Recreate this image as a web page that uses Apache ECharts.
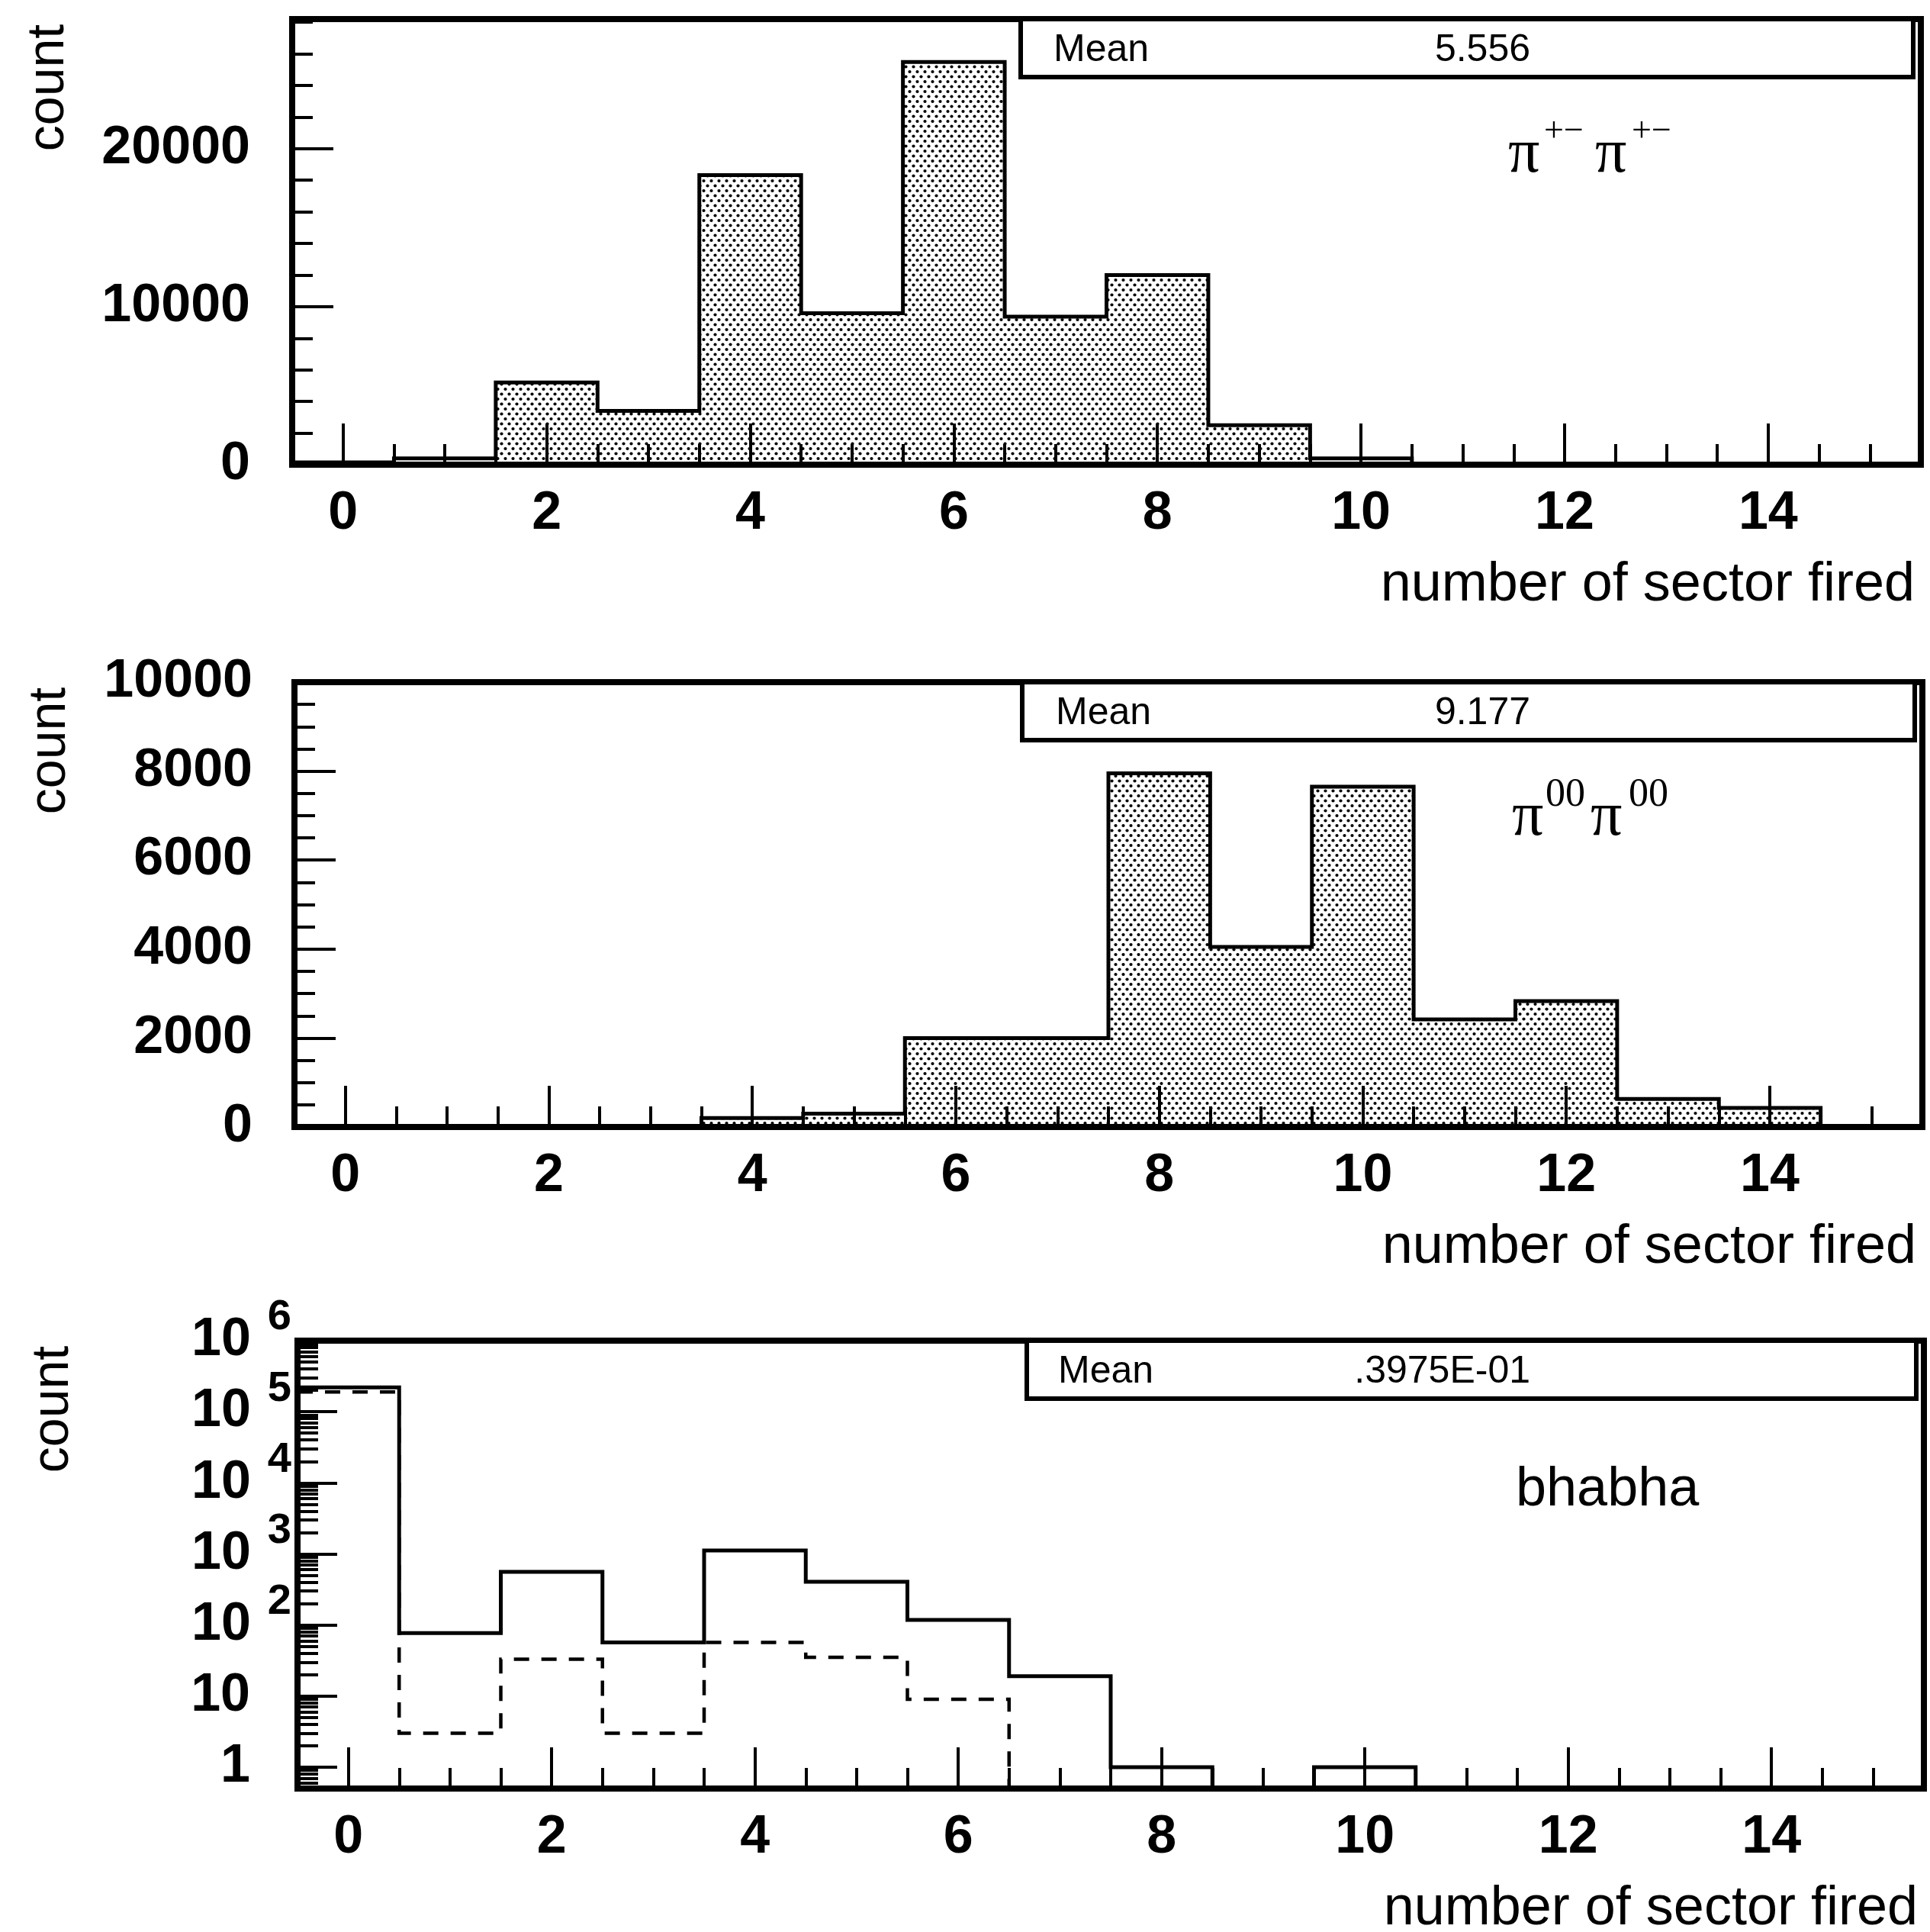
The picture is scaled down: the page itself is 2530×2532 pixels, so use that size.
<!DOCTYPE html>
<html>
<head>
<meta charset="utf-8">
<script src="https://cdn.jsdelivr.net/npm/echarts@6/dist/echarts.min.js"></script>
<style>
html,body{margin:0;padding:0;background:#fff;}
#c{width:2530px;height:2532px;}
</style>
</head>
<body>
<div id="c"></div>
<script>
// ---------------- data ----------------
const binCenters = [0, 1, 2, 3, 4, 5, 6, 7, 8, 9, 10, 11, 12, 13, 14, 15];
const xTickLabels = [0, 2, 4, 6, 8, 10, 12, 14];
const xMinorTicks = [0, 0.5, 1, 1.5, 2, 2.5, 3, 3.5, 4, 4.5, 5, 5.5, 6, 6.5, 7, 7.5, 8, 8.5, 9, 9.5, 10, 10.5, 11, 11.5, 12, 12.5, 13, 13.5, 14, 14.5, 15];

// pi+- pi+- : counts per number of sectors fired
const piChargedCounts = [150, 400, 5200, 3400, 18330, 9580, 25480, 9370, 12000, 2500, 400, 0, 0, 0, 0, 0];
// pi00 pi00
const piNeutralCounts = [0, 0, 0, 0, 200, 300, 2000, 2000, 7950, 4050, 7650, 2420, 2830, 630, 430, 0];
// bhabha : all events (solid) and selected (dashed)
const bhabhaAll = [220000, 77, 560, 57, 1120, 405, 118, 19, 1, 0, 1, 0, 0, 0, 0, 0];
const bhabhaSel = [190000, 3, 33, 3, 57, 35, 9, 0, 0, 0, 0, 0, 0, 0, 0, 0];

const p1YTicks = [0, 10000, 20000];
const p1YMinor = [2000, 4000, 6000, 8000, 12000, 14000, 16000, 18000, 22000, 24000, 26000, 28000];
const p2YTicks = [0, 2000, 4000, 6000, 8000, 10000];
const p2YMinor = [500, 1000, 1500, 2500, 3000, 3500, 4500, 5000, 5500, 6500, 7000, 7500, 8500, 9000, 9500];
const p3YTicks = [1, 10, 100, 1000, 10000, 100000, 1000000];
const p3YMinor = [0.6, 0.7, 0.8, 0.9, 2, 3, 4, 5, 6, 7, 8, 9, 20, 30, 40, 50, 60, 70, 80, 90,
  200, 300, 400, 500, 600, 700, 800, 900, 2000, 3000, 4000, 5000, 6000, 7000, 8000, 9000,
  20000, 30000, 40000, 50000, 60000, 70000, 80000, 90000, 200000, 300000, 400000, 500000, 600000, 700000, 800000, 900000];

const meanValues = ['5.556', '9.177', '.3975E-01'];
const xTitle = 'number of sector fired';
const yTitle = 'count';

// ---------------- layout / style ----------------
const FONT = "'Liberation Sans', Arial, Helvetica, sans-serif";
const SERIF = "'Liberation Serif', 'Times New Roman', serif";
const P = [
  {left: 383, right: 2518, top: 25,   h: 584, ymax: 28200,   countX: 64, boxLeft: 1338, meanX: 1381},
  {left: 386, right: 2520, top: 894,  h: 583, ymax: 10000,   countX: 66, boxLeft: 1340, meanX: 1384},
  {left: 390, right: 2522, top: 1757, h: 587, ymax: 1000001, countX: 70, boxLeft: 1346, meanX: 1387}
];

// stipple pattern for filled histograms
const pat = document.createElement('canvas');
pat.width = 10; pat.height = 13;
(function () {
  const g = pat.getContext('2d');
  g.fillStyle = '#ffffff'; g.fillRect(0, 0, 10, 13);
  g.fillStyle = '#000000';
  g.beginPath(); g.arc(2.5, 3, 2.1, 0, Math.PI * 2); g.fill();
  g.beginPath(); g.arc(7.5, 9.5, 2.1, 0, Math.PI * 2); g.fill();
})();

function stepData(counts, floorVal) {
  const pts = counts.map((c, i) => [binCenters[i] - 0.5, (floorVal !== undefined && c <= 0) ? floorVal : c]);
  const last = counts.length - 1;
  pts.push([binCenters[last] + 0.5, pts[last][1]]);
  return pts;
}

const tickLine = {color: '#000', width: 4};
const axisLineStyle = {color: '#000', width: 8};

function xAxesFor(gi) {
  return [
    {
      gridIndex: gi, type: 'value', position: 'bottom', min: -0.5, max: 15.5, z: 5,
      axisLine: {show: true, onZero: false, lineStyle: axisLineStyle},
      axisTick: {show: true, inside: true, length: 54, lineStyle: tickLine, customValues: xTickLabels},
      axisLabel: {show: true, customValues: xTickLabels, margin: 30, color: '#000', fontSize: 70,
                  fontWeight: 'bold', fontFamily: FONT},
      splitLine: {show: false},
      name: xTitle, nameLocation: 'end', nameGap: -8, nameMoveOverlap: false,
      nameTextStyle: {color: '#000', fontSize: 72, fontFamily: FONT, align: 'right',
                      verticalAlign: 'top', padding: [122, 0, 0, 0]}
    },
    {
      gridIndex: gi, type: 'value', position: 'bottom', min: -0.5, max: 15.5, z: 5,
      axisLine: {show: false, onZero: false}, axisLabel: {show: false}, splitLine: {show: false},
      axisTick: {show: true, inside: true, length: 27, lineStyle: tickLine, customValues: xMinorTicks}
    }
  ];
}

function yAxesLinear(gi, major, minor) {
  return [
    {
      gridIndex: gi, type: 'value', position: 'left', min: 0, max: P[gi].ymax, z: 5,
      axisLine: {show: true, onZero: false, lineStyle: axisLineStyle},
      axisTick: {show: true, inside: true, length: 54, lineStyle: tickLine, customValues: major},
      axisLabel: {show: true, customValues: major, margin: 55, color: '#000', fontSize: 70,
                  showMinLabel: true, showMaxLabel: true,
                  fontWeight: 'bold', fontFamily: FONT, formatter: v => String(v)},
      splitLine: {show: false}
    },
    {
      gridIndex: gi, type: 'value', position: 'left', min: 0, max: P[gi].ymax, z: 5,
      axisLine: {show: false, onZero: false}, axisLabel: {show: false}, splitLine: {show: false},
      axisTick: {show: true, inside: true, length: 27, lineStyle: tickLine, customValues: minor}
    }
  ];
}

const logLabel = {
  show: true, margin: 8, color: '#000', fontFamily: FONT,
  showMinLabel: true, showMaxLabel: true, hideOverlap: false,
  formatter: function (v) {
    const e = Math.round(Math.log10(v));
    if (e === 0) return '{b|1}{e|\u00a0}';
    if (e === 1) return '{b|10}{e|\u00a0}';
    return '{b|10}{s|' + e + '}';
  },
  rich: {
    b: {fontSize: 70, lineHeight: 70, fontWeight: 'bold', fontFamily: FONT, color: '#000'},
    s: {fontSize: 56, lineHeight: 56, fontWeight: 'bold', fontFamily: FONT, color: '#000', padding: [0, 0, 60, 22]},
    e: {fontSize: 56, lineHeight: 56, width: 54}
  }
};

function yAxesLog(gi) {
  const base = {gridIndex: gi, type: 'log', logBase: 10, position: 'left', min: 0.5, max: P[gi].ymax, z: 5,
                splitLine: {show: false}};
  // labels alternate between two label-carrying axes so that neighbouring labels never collide
  const evenLabels = p3YTicks.filter((v, i) => i % 2 === 0);
  const oddLabels = p3YTicks.filter((v, i) => i % 2 === 1);
  return [
    Object.assign({}, base, {
      axisLine: {show: true, onZero: false, lineStyle: axisLineStyle},
      axisTick: {show: true, inside: true, length: 52, lineStyle: tickLine, customValues: p3YTicks},
      axisLabel: Object.assign({}, logLabel, {customValues: evenLabels})
    }),
    Object.assign({}, base, {
      axisLine: {show: false, onZero: false}, axisLabel: {show: false},
      axisTick: {show: true, inside: true, length: 27, lineStyle: tickLine, customValues: p3YMinor}
    }),
    Object.assign({}, base, {
      axisLine: {show: false, onZero: false}, axisTick: {show: false},
      axisLabel: Object.assign({}, logLabel, {customValues: oddLabels})
    })
  ];
}

const grids = P.map(p => ({
  left: p.left, top: p.top, width: p.right - p.left, height: p.h,
  show: true, borderColor: '#000', borderWidth: 8, backgroundColor: 'transparent',
  containLabel: false, outerBoundsMode: 'none'
}));

const xAxis = [].concat(xAxesFor(0), xAxesFor(1), xAxesFor(2));
const yAxis = [].concat(yAxesLinear(0, p1YTicks, p1YMinor), yAxesLinear(1, p2YTicks, p2YMinor), yAxesLog(2));

const histLine = {color: '#000', width: 5, join: 'miter', cap: 'butt'};
const series = [
  {
    name: 'π+- π+-', type: 'line', xAxisIndex: 0, yAxisIndex: 0, step: 'end', symbol: 'none',
    data: stepData(piChargedCounts), lineStyle: histLine,
    areaStyle: {color: {image: pat, repeat: 'repeat'}, opacity: 1}, z: 2
  },
  {
    name: 'π00 π00', type: 'line', xAxisIndex: 2, yAxisIndex: 2, step: 'end', symbol: 'none',
    data: stepData(piNeutralCounts), lineStyle: histLine,
    areaStyle: {color: {image: pat, repeat: 'repeat'}, opacity: 1}, z: 2
  },
  {
    name: 'bhabha selected', type: 'line', xAxisIndex: 4, yAxisIndex: 4, step: 'end', symbol: 'none',
    data: stepData(bhabhaSel, 0.01), clip: true,
    lineStyle: {color: '#000', width: 4.5, type: [20, 16], join: 'miter', cap: 'butt'}, z: 2
  },
  {
    name: 'bhabha', type: 'line', xAxisIndex: 4, yAxisIndex: 4, step: 'end', symbol: 'none',
    data: stepData(bhabhaAll, 0.01), clip: true, lineStyle: histLine, z: 3
  }
];

// annotations
const graphic = [];
P.forEach((p, i) => {
  graphic.push({
    type: 'rect', z: 100,
    shape: {x: p.boxLeft, y: p.top, width: p.right - 10 - p.boxLeft, height: 76},
    style: {fill: '#fff', stroke: '#000', lineWidth: 6}
  });
  graphic.push({
    type: 'text', z: 101, x: p.meanX, y: p.top + 41,
    style: {text: 'Mean', fill: '#000', fontSize: 50, fontFamily: FONT, align: 'left', verticalAlign: 'middle'}
  });
  graphic.push({
    type: 'text', z: 101, x: 2006, y: p.top + 41,
    style: {text: meanValues[i], fill: '#000', fontSize: 50, fontFamily: FONT, align: 'right', verticalAlign: 'middle'}
  });
  graphic.push({
    type: 'text', z: 101, x: p.countX, y: p.top + 90, rotation: Math.PI / 2,
    style: {text: yTitle, fill: '#000', fontSize: 68, fontFamily: FONT, align: 'center', verticalAlign: 'middle'}
  });
});
// process labels
function piLabel(p, sup, xs, supSize) {
  const t = p.top;
  graphic.push({type: 'text', z: 101, x: xs[0], y: t + 178,
    style: {text: 'π', fill: '#000', fontSize: 82, fontFamily: SERIF, align: 'left', verticalAlign: 'middle'}});
  graphic.push({type: 'text', z: 101, x: xs[1], y: t + 148,
    style: {text: sup, fill: '#000', fontSize: supSize, fontFamily: SERIF, align: 'left', verticalAlign: 'middle'}});
  graphic.push({type: 'text', z: 101, x: xs[2], y: t + 178,
    style: {text: 'π', fill: '#000', fontSize: 82, fontFamily: SERIF, align: 'left', verticalAlign: 'middle'}});
  graphic.push({type: 'text', z: 101, x: xs[3], y: t + 148,
    style: {text: sup, fill: '#000', fontSize: supSize, fontFamily: SERIF, align: 'left', verticalAlign: 'middle'}});
}
piLabel(P[0], '+\u2212', [1977, 2024, 2091, 2139], 46);
piLabel(P[1], '00', [1982, 2026, 2085, 2135], 52);
graphic.push({type: 'text', z: 101, x: 1987, y: P[2].top + 196,
  style: {text: 'bhabha', fill: '#000', fontSize: 72, fontFamily: FONT, align: 'left', verticalAlign: 'middle'}});

const chart = echarts.init(document.getElementById('c'), null, {renderer: 'canvas', width: 2530, height: 2532});
chart.setOption({
  backgroundColor: '#ffffff',
  animation: false,
  grid: grids,
  xAxis: xAxis,
  yAxis: yAxis,
  series: series,
  graphic: graphic
});
</script>
</body>
</html>
